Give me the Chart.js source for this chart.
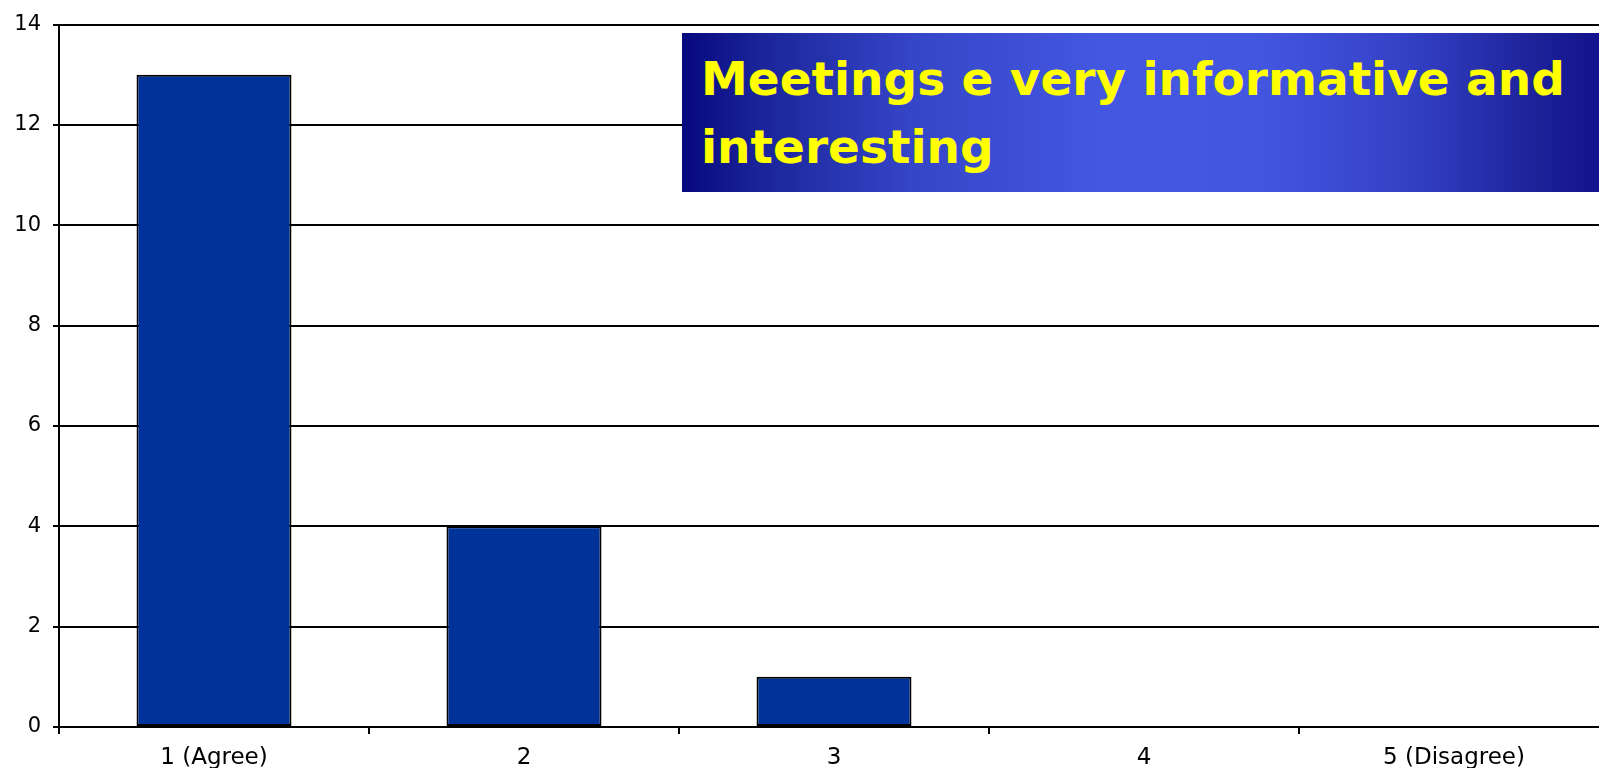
<!DOCTYPE html>
<html>
<head>
<meta charset="utf-8">
<title>Meetings survey</title>
<script src="https://cdn.jsdelivr.net/npm/chart.js@4/dist/chart.umd.min.js"></script>
<style>
  html, body { margin: 0; padding: 0; background: #fff; overflow: hidden; }
  #wrap { position: relative; width: 1599px; height: 768px; overflow: hidden; }
  #grafico { position: absolute; left: 0; top: 0; }
  #titulo {
    position: absolute;
    left: 682px;
    top: 33px;
    width: 930px;
    height: 159px;
    box-sizing: border-box;
    padding: 12px 0 0 19px;
    background: linear-gradient(to right,
      #06087e 0%, #1a2398 8%, #3546c8 25%, #4357e0 45%,
      #4356e0 62%, #3441c6 78%, #1c2198 92%, #10108a 100%);
    color: #ffff00;
    font: bold 47px "DejaVu Sans", Verdana, sans-serif;
    line-height: 68px;
    white-space: nowrap;
  }
</style>
</head>
<body>
<div id="wrap">
  <canvas id="grafico" width="1609" height="768"></canvas>
  <div id="titulo">Meetings e very informative and<br>interesting</div>
</div>
<script>
// categorias e respostas
const categories = ['1 (Agree)', '2', '3', '4', '5 (Disagree)'];
const responses = [13, 4, 1, 0, 0];
const yMax = 14;
const yStep = 2;

new Chart(document.getElementById('grafico'), {
  type: 'bar',
  data: {
    labels: categories,
    datasets: [{
      label: 'Responses',
      data: responses,
      backgroundColor: '#003399',
      borderColor: '#000000',
      borderWidth: 2,
      borderSkipped: false,
      barPercentage: 0.5,
      categoryPercentage: 1.0
    }]
  },
  options: {
    responsive: false,
    animation: false,
    layout: { padding: { top: 23, left: 0, right: 0, bottom: 0 } },
    plugins: {
      legend: { display: false },
      tooltip: { enabled: false }
    },
    scales: {
      x: {
        afterFit: scale => { scale.height = 41; },
        grid: {
          drawOnChartArea: false,
          drawTicks: true,
          tickLength: 7,
          color: '#000',
          lineWidth: 2
        },
        border: { display: true, color: '#000', width: 2 },
        ticks: {
          color: '#000',
          padding: 10,
          font: { family: '"DejaVu Sans", Verdana, sans-serif', size: 23 }
        }
      },
      y: {
        min: 0,
        max: yMax,
        afterFit: scale => { scale.width = 59; },
        grid: {
          color: '#000',
          lineWidth: 2,
          tickLength: 6
        },
        border: { display: true, color: '#000', width: 2 },
        ticks: {
          stepSize: yStep,
          color: '#000',
          padding: 12,
          font: { family: '"DejaVu Sans", Verdana, sans-serif', size: 21 }
        }
      }
    }
  }
});
</script>
</body>
</html>
